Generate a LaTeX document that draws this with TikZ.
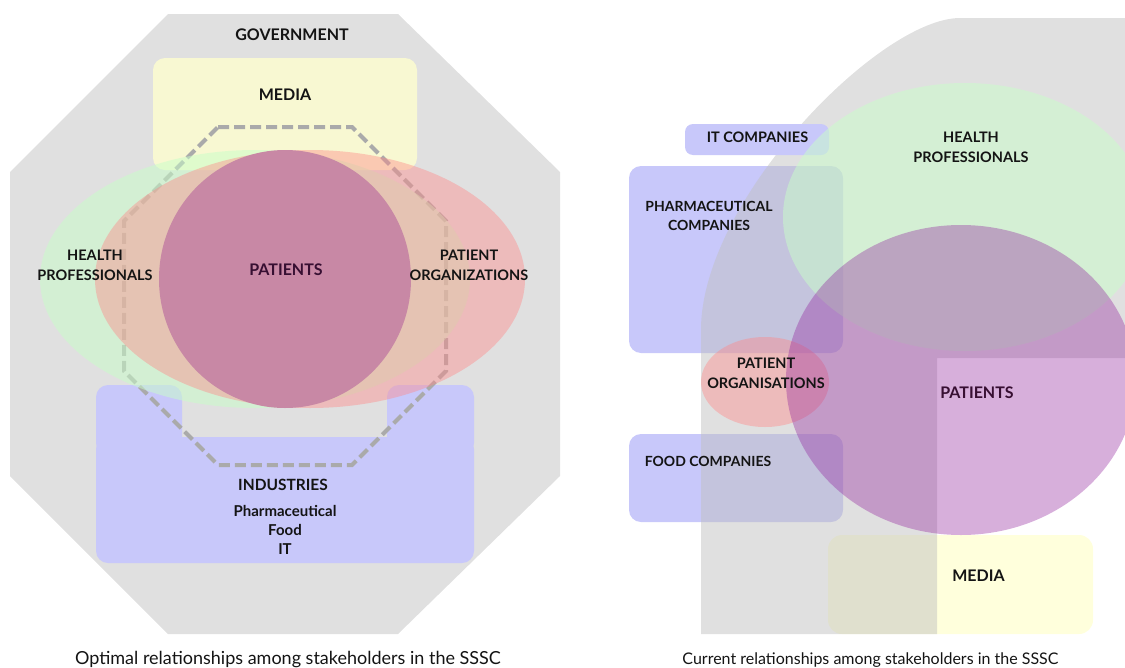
\documentclass[tikz,border=0pt]{standalone}
\usepackage{fontspec}
\setmainfont{Lato}
\definecolor{octgray}{RGB}{224,224,224}
\definecolor{mediayel}{RGB}{248,248,210}
\definecolor{mediayelR}{RGB}{255,255,220}
\definecolor{indblue}{RGB}{200,200,250}
\definecolor{hpgreen}{RGB}{200,255,200}
\definecolor{pored}{RGB}{255,136,136}
\definecolor{patcirc}{RGB}{200,136,165}
\definecolor{patpurple}{RGB}{145,32,156}
\definecolor{regiongray}{RGB}{192,192,192}
\definecolor{dashgray}{RGB}{170,170,170}
\definecolor{txt}{RGB}{20,20,20}
\definecolor{pattxt}{RGB}{55,15,50}
\tikzset{
  lbl/.style={font=\fontsize{14.5}{19}\selectfont\bfseries, text=txt, inner sep=0pt, anchor=base},
  smlbl/.style={font=\fontsize{14}{19}\selectfont\bfseries, text=txt, inner sep=0pt, anchor=base},
  biglbl/.style={font=\fontsize{16}{19}\selectfont\bfseries, text=txt, inner sep=0pt, anchor=base},
  sublbl/.style={font=\fontsize{15}{19}\selectfont\bfseries, text=txt, inner sep=0pt, anchor=base},
  captext/.style={font=\fontsize{18}{20}\selectfont, text=txt, inner sep=0pt, anchor=base},
  greenfill/.style={fill=hpgreen, fill opacity=0.5},
  redfill/.style={fill=pored, fill opacity=0.42},
  purplefill/.style={fill=patpurple, fill opacity=0.36},
  bluebox/.style={fill=indblue, rounded corners=12},
}
\begin{document}
\begin{tikzpicture}[x=1pt,y=-1pt]
\useasboundingbox (0,0) rectangle (1125,667);
\clip (0,0) rectangle (1125,667);
% ---------------- LEFT: optimal ----------------
\fill[octgray] (168,14) -- (398,14) -- (560,172) -- (560,476) -- (398,634) -- (168,634) -- (10,476) -- (10,172) -- cycle;
\fill[mediayel, rounded corners=12] (153,58) rectangle (417,170);
% industries U shape
\fill[bluebox] (96,385) rectangle (182,455);
\fill[bluebox] (387,385) rectangle (474,455);
\fill[bluebox] (96,437) rectangle (474,563);
\fill[indblue] (170,437) rectangle (400,460);
% dashed octagon
\draw[dashgray, line width=4, dash pattern=on 11 off 5] (218,127) -- (352,127) -- (446,221) -- (446,371) -- (352,465) -- (218,465) -- (124,371) -- (124,221) -- cycle;
\fill[greenfill] (255,279) ellipse [x radius=215, y radius=129];
\fill[redfill] (310,279) ellipse [x radius=215, y radius=129];
\fill[patcirc] (285,279) ellipse [x radius=126, y radius=129];
\node[biglbl] (gov) at (292,40.5) {GOVERNMENT};
\node[biglbl] (medL) at (285,100) {MEDIA};
\node[lbl] (hpL1) at (95,260.5) {HEALTH};
\node[lbl] (hpL2) at (95,280) {PROFESSIONALS};
\node[biglbl, text=pattxt] (patL) at (286,275) {PATIENTS};
\node[lbl] (poL1) at (469,260.5) {PATIENT};
\node[lbl] (poL2) at (469,280) {ORGANIZATIONS};
\node[sublbl, font=\fontsize{15.5}{19}\selectfont\bfseries] (ind) at (283,490) {INDUSTRIES};
\node[sublbl] (ind1) at (285,516.5) {Pharmaceutical};
\node[sublbl] (ind2) at (285,535) {Food};
\node[sublbl] (ind3) at (285,554) {IT};
\node[captext] (capL) at (288,664) {Optimal relationships among stakeholders in the SSSC};
% ---------------- RIGHT: current ----------------
\fill[bluebox] (629,166) rectangle (843,353);
\fill[bluebox] (629,434) rectangle (843,522);
\fill[mediayelR, rounded corners=14] (828,535) rectangle (1093,634);
\fill[regiongray, fill opacity=0.49] (701,634) -- (701,330) .. controls (701,200) and (880,18) .. (960,18) -- (1125,18) -- (1125,358) -- (937,358) -- (937,634) -- cycle;
\fill[indblue, rounded corners=8] (685,124) rectangle (829,155);
\fill[greenfill] (965,217) ellipse [x radius=182, y radius=134];
\fill[redfill] (765,382) ellipse [x radius=64, y radius=45];
\fill[purplefill] (961,380) ellipse [x radius=175, y radius=155];
\node[lbl] (itc) at (757.5,142.5) {IT COMPANIES};
\node[lbl] (hpR1) at (971,142.5) {HEALTH};
\node[lbl] (hpR2) at (971,162) {PROFESSIONALS};
\node[smlbl] (phR1) at (709,211.5) {PHARMACEUTICAL};
\node[smlbl] (phR2) at (709,230.5) {COMPANIES};
\node[lbl] (poR1) at (766,368.5) {PATIENT};
\node[lbl] (poR2) at (766,388) {ORGANISATIONS};
\node[biglbl, text=pattxt] (patR) at (977,398) {PATIENTS};
\node[smlbl] (food) at (708,466.5) {FOOD COMPANIES};
\node[biglbl] (medR) at (978.5,581) {MEDIA};
\node[captext, font=\fontsize{16}{20}\selectfont] (capR) at (870.5,664) {Current relationships among stakeholders in the SSSC};
\end{tikzpicture}
\end{document}
